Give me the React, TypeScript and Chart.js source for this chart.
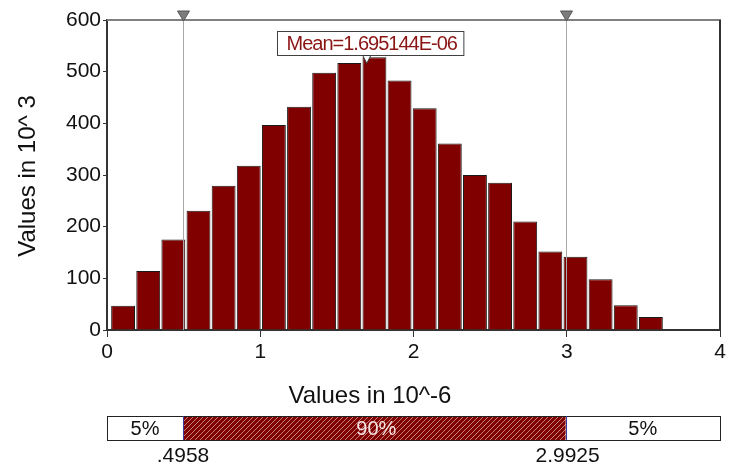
import React, { useEffect, useRef } from 'react';
import { Chart, registerables } from 'chart.js';

Chart.register(...registerables);

const FONT = '"Liberation Sans", Arial, Helvetica, sans-serif';

// Histogram bins (centres, in 10^-6) and heights (in 10^3)
const binCenters = [
  0.105, 0.269, 0.433, 0.597, 0.761, 0.925, 1.089, 1.253, 1.417, 1.581, 1.745,
  1.909, 2.073, 2.237, 2.401, 2.565, 2.729, 2.893, 3.057, 3.221, 3.385, 3.549,
];
const binCounts = [
  47, 114, 175, 231, 279, 318, 397, 432, 498, 517, 528,
  483, 429, 361, 300, 285, 210, 152, 142, 98, 48, 25,
];

const xMin = 0;
const xMax = 4;
const yMin = 0;
const yMax = 600;

const lowPercentile = 0.4958;
const highPercentile = 2.9925;
const meanValue = 1.695144;

const lowLabel = '.4958';
const highLabel = '2.9925';
const meanLabel = 'Mean=1.695144E-06';
const bandLabels = ['5%', '90%', '5%'];
const xTitle = 'Values in 10^-6';
const yTitle = 'Values in 10^ 3';

const DARK_RED = '#800000';

function makeHatch(ctx: CanvasRenderingContext2D) {
  const c = document.createElement('canvas');
  c.width = 5;
  c.height = 5;
  const g = c.getContext('2d')!;
  g.fillStyle = DARK_RED;
  g.fillRect(0, 0, 5, 5);
  g.strokeStyle = 'rgba(220,170,170,0.75)';
  g.lineWidth = 1;
  g.beginPath();
  g.moveTo(-1, 6);
  g.lineTo(6, -1);
  g.stroke();
  return ctx.createPattern(c, 'repeat');
}

const overlayPlugin = {
  id: 'overlay',
  afterDatasetsDraw(chart: any) {
    const { ctx, chartArea: a, scales } = chart;
    const x = scales.x;
    ctx.save();

    // frame: top (gray) and right (dark)
    ctx.lineWidth = 2;
    ctx.strokeStyle = '#808080';
    ctx.beginPath();
    ctx.moveTo(a.left, a.top);
    ctx.lineTo(a.right + 1, a.top);
    ctx.stroke();
    ctx.strokeStyle = '#333333';
    ctx.beginPath();
    ctx.moveTo(a.right, a.top);
    ctx.lineTo(a.right, a.bottom);
    ctx.stroke();

    // percentile lines and triangles
    for (const p of [lowPercentile, highPercentile]) {
      const px = Math.round(x.getPixelForValue(p)) + 0.5;
      ctx.strokeStyle = '#a8a8a8';
      ctx.lineWidth = 1;
      ctx.beginPath();
      ctx.moveTo(px, a.top);
      ctx.lineTo(px, a.bottom);
      ctx.stroke();
      ctx.fillStyle = '#7c7c7c';
      ctx.strokeStyle = '#555555';
      ctx.beginPath();
      ctx.moveTo(px - 6, a.top - 9);
      ctx.lineTo(px + 6, a.top - 9);
      ctx.lineTo(px, a.top + 1);
      ctx.closePath();
      ctx.fill();
      ctx.stroke();
    }

    // mean label box
    const mx = x.getPixelForValue(meanValue);
    ctx.font = `20px ${FONT}`;
    (ctx as any).letterSpacing = '-1px';
    const tw = ctx.measureText(meanLabel).width;
    const boxW = tw + 16;
    const boxL = Math.round(mx - 90) + 0.5;
    const boxT = a.top + 11.5;
    const boxH = 24;
    ctx.fillStyle = '#ffffff';
    ctx.fillRect(boxL, boxT, boxW, boxH);
    ctx.strokeStyle = '#404040';
    ctx.lineWidth = 1;
    ctx.strokeRect(boxL, boxT, boxW, boxH);
    ctx.fillStyle = '#8b1414';
    ctx.textAlign = 'left';
    ctx.textBaseline = 'middle';
    ctx.fillText(meanLabel, boxL + 9, boxT + boxH / 2 + 1);
    (ctx as any).letterSpacing = '0px';

    // mean marker
    ctx.fillStyle = '#ffffff';
    ctx.strokeStyle = '#333333';
    ctx.beginPath();
    ctx.moveTo(mx - 4, boxT + boxH);
    ctx.lineTo(mx + 4, boxT + boxH);
    ctx.lineTo(mx, boxT + boxH + 8);
    ctx.closePath();
    ctx.fill();
    ctx.stroke();

    ctx.restore();
  },
  afterDraw(chart: any) {
    const { ctx, scales } = chart;
    const x = scales.x;
    ctx.save();
    ctx.fillStyle = '#111111';

    // axis titles
    ctx.font = `24px ${FONT}`;
    ctx.textAlign = 'center';
    ctx.textBaseline = 'middle';
    ctx.fillText(xTitle, 370, 396);
    ctx.save();
    ctx.translate(28, 176);
    ctx.rotate(-Math.PI / 2);
    ctx.fillText(yTitle, 0, 0);
    ctx.restore();

    // bottom percentile band
    const left = x.getPixelForValue(xMin);
    const right = x.getPixelForValue(xMax);
    const pl = x.getPixelForValue(lowPercentile);
    const ph = x.getPixelForValue(highPercentile);
    const top = 416;
    const h = 24;
    ctx.fillStyle = '#ffffff';
    ctx.fillRect(left, top, right - left, h);
    ctx.fillStyle = makeHatch(ctx) as any;
    ctx.fillRect(pl, top, ph - pl, h);
    ctx.strokeStyle = '#222222';
    ctx.lineWidth = 1;
    ctx.strokeRect(Math.round(left) + 0.5, top + 0.5, Math.round(right - left), h);
    ctx.strokeStyle = '#3a3a9a';
    for (const p of [pl, ph]) {
      ctx.beginPath();
      ctx.moveTo(Math.round(p) + 0.5, top);
      ctx.lineTo(Math.round(p) + 0.5, top + h);
      ctx.stroke();
    }
    ctx.font = `20px ${FONT}`;
    ctx.textBaseline = 'middle';
    ctx.textAlign = 'center';
    ctx.fillStyle = '#111111';
    ctx.fillText(bandLabels[0], (left + pl) / 2, top + h / 2 + 1);
    ctx.fillText(bandLabels[2], (ph + right) / 2, top + h / 2 + 1);
    ctx.fillStyle = '#f4e4e4';
    ctx.fillText(bandLabels[1], (pl + ph) / 2 + 2, top + h / 2 + 1);

    ctx.font = `21px ${FONT}`;
    ctx.fillStyle = '#111111';
    ctx.fillText(lowLabel, pl, 456);
    ctx.fillText(highLabel, ph + 2, 456);

    ctx.restore();
  },
};

export default function App() {
  const ref = useRef<HTMLCanvasElement | null>(null);

  useEffect(() => {
    if (!ref.current) return;
    const chart = new Chart(ref.current, {
      type: 'bar',
      data: {
        datasets: [
          {
            data: binCenters.map((c, i) => ({ x: c, y: binCounts[i] })),
            backgroundColor: DARK_RED,
            borderColor: '#1a1a1a',
            borderWidth: 1,
            categoryPercentage: 1,
            barPercentage: 0.95,
          } as any,
        ],
      },
      options: {
        animation: false,
        responsive: false,
        devicePixelRatio: 1,
        events: [],
        layout: { padding: { left: 0, top: 20, right: 11, bottom: 108 } },
        plugins: {
          legend: { display: false },
          tooltip: { enabled: false },
          title: { display: false },
        },
        scales: {
          x: {
            type: 'linear',
            min: xMin,
            max: xMax,
            offset: false,
            grid: {
              display: true,
              drawOnChartArea: false,
              drawTicks: true,
              tickLength: 7,
              color: '#333333',
              offset: false,
            },
            border: { display: true, color: '#333333', width: 2 },
            ticks: {
              stepSize: 1,
              color: '#111111',
              font: { family: FONT, size: 21 },
              padding: 3,
              maxRotation: 0,
            },
            afterFit: (s: any) => {
              s.height = 30;
            },
          },
          y: {
            min: yMin,
            max: yMax,
            grid: {
              display: true,
              drawOnChartArea: false,
              drawTicks: true,
              tickLength: 4,
              color: '#333333',
            },
            border: { display: true, color: '#333333', width: 2 },
            ticks: {
              stepSize: 100,
              color: '#111111',
              font: { family: FONT, size: 21 },
              padding: 2,
            },
            afterFit: (s: any) => {
              s.width = 107;
            },
          },
        },
      },
      plugins: [overlayPlugin],
    });
    return () => chart.destroy();
  }, []);

  return (
    <div style={{ position: 'fixed', left: 0, top: 0, width: 731, height: 468, background: '#fff' }}>
      <canvas ref={ref} width={731} height={468} style={{ width: 731, height: 468, display: 'block' }} />
    </div>
  );
}
